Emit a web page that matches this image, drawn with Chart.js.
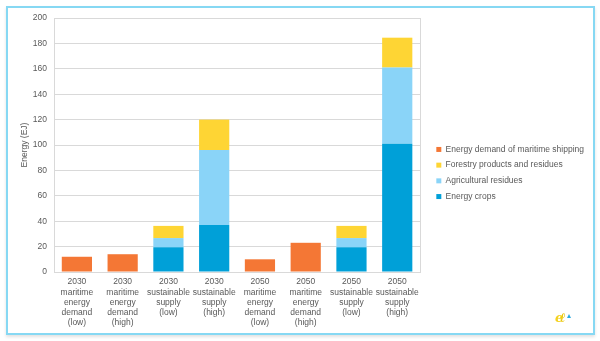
<!DOCTYPE html>
<html>
<head>
<meta charset="utf-8">
<script src="https://cdn.jsdelivr.net/npm/chart.js@4.4.0/dist/chart.umd.min.js"></script>
<style>
  html, body { margin: 0; padding: 0; background: #fff; }
  #wrap { position: relative; width: 600px; height: 341px; }
  #frame {
    position: absolute; left: 6px; top: 6px; width: 585px; height: 325px;
    border: 2px solid #86d8f3; box-shadow: 0 2px 3px rgba(0,0,0,0.12);
    pointer-events: none;
  }
  canvas { position: absolute; left: 0; top: 0; }
</style>
</head>
<body>
<div id="wrap">
  <canvas id="chart" width="600" height="341"></canvas>
  <div id="frame"></div>
</div>
<script>
const categories = [
  ['2030', 'maritime', 'energy', 'demand', '(low)'],
  ['2030', 'maritime', 'energy', 'demand', '(high)'],
  ['2030', 'sustainable', 'supply', '(low)'],
  ['2030', 'sustainable', 'supply', '(high)'],
  ['2050', 'maritime', 'energy', 'demand', '(low)'],
  ['2050', 'maritime', 'energy', 'demand', '(high)'],
  ['2050', 'sustainable', 'supply', '(low)'],
  ['2050', 'sustainable', 'supply', '(high)']
];
const energyCrops = [null, null, 19.5, 37, null, null, 19.5, 101];
const agriResidues = [null, null, 7.2, 59, null, null, 7.2, 60];
const forestry = [null, null, 9.6, 24, null, null, 9.6, 23.5];
const maritimeDemand = [12, 14, null, null, 10, 23, null, null];
const yTicks = [0, 20, 40, 60, 80, 100, 120, 140, 160, 180, 200];

const textColor = '#595959';
const gridColor = '#d9d9d9';
Chart.defaults.font.family = "'Liberation Sans', Arial, sans-serif";
Chart.defaults.font.size = 8.5;
Chart.defaults.color = textColor;

// plot box border on the right side
const boxPlugin = {
  id: 'box',
  beforeDatasetsDraw(chart) {
    const a = chart.chartArea, ctx = chart.ctx;
    ctx.save();
    ctx.strokeStyle = gridColor;
    ctx.lineWidth = 1;
    ctx.beginPath();
    ctx.moveTo(Math.round(a.right) + 0.5, a.top);
    ctx.lineTo(Math.round(a.right) + 0.5, a.bottom);
    ctx.stroke();
    ctx.restore();
  }
};

// leave a gap between plot and legend, and lift the legend a little
const legendGap = 9;
const legendLift = 5;
const legendShiftPlugin = {
  id: 'legendShift',
  beforeLayout(chart) {
    const lg = chart.legend;
    if (!lg || lg._patched) return;
    lg._patched = true;
    const fit = lg.fit;
    lg.fit = function () { fit.call(this); this.width += legendGap; };
    const draw = lg.draw;
    lg.draw = function () {
      const l = this.left, t = this.top;
      this.left += legendGap; this.top -= legendLift;
      draw.call(this);
      this.left = l; this.top = t;
    };
  }
};

// small logo at bottom right
const logoPlugin = {
  id: 'logo',
  afterDraw(chart) {
    const ctx = chart.ctx;
    ctx.save();
    ctx.font = "italic bold 13px 'DejaVu Serif', serif";
    ctx.fillStyle = '#f5d21f';
    ctx.fillText('e', 555, 322);
    ctx.fillStyle = '#e8c400';
    ctx.fillText('ℓ', 560, 322);
    ctx.fillStyle = '#2aa9e0';
    ctx.beginPath();
    ctx.moveTo(567, 318); ctx.lineTo(571, 318); ctx.lineTo(569, 314);
    ctx.fill();
    ctx.restore();
  }
};

new Chart(document.getElementById('chart'), {
  type: 'bar',
  data: {
    labels: categories,
    datasets: [
      { label: 'Energy crops', data: energyCrops, backgroundColor: '#00a0d8', stack: 's' },
      { label: 'Agricultural residues', data: agriResidues, backgroundColor: '#8ad4f8', stack: 's' },
      { label: 'Forestry products and residues', data: forestry, backgroundColor: '#fed534', stack: 's' },
      { label: 'Energy demand of maritime shipping', data: maritimeDemand, backgroundColor: '#f47735', stack: 's' }
    ]
  },
  options: {
    responsive: false,
    animation: false,
    layout: { padding: { left: 14, right: 6, top: 18, bottom: 8 } },
    datasets: { bar: { barPercentage: 0.66, categoryPercentage: 1 } },
    plugins: {
      tooltip: { enabled: false },
      legend: {
        position: 'right',
        reverse: true,
        maxWidth: 220,
        labels: { boxWidth: 5, boxHeight: 5, padding: 7.2, color: textColor, font: { size: 8.5 } }
      }
    },
    scales: {
      x: {
        stacked: true,
        grid: { display: false, drawTicks: false },
        border: { color: gridColor },
        ticks: { maxRotation: 0, autoSkip: false, color: textColor, padding: 5, font: { size: 8.5, lineHeight: 1.2 } }
      },
      y: {
        stacked: true,
        min: 0,
        max: 200,
        afterBuildTicks(axis) { axis.ticks = yTicks.map(v => ({ value: v })); },
        afterFit(axis) { axis.width = 40; },
        grid: { color: gridColor, drawTicks: false },
        border: { color: gridColor },
        ticks: { color: textColor, padding: 7 },
        title: { display: true, text: 'Energy (EJ)', color: textColor, font: { size: 8.5 }, padding: { top: 6, bottom: 0 } }
      }
    }
  },
  plugins: [boxPlugin, legendShiftPlugin, logoPlugin]
});
</script>
</body>
</html>
